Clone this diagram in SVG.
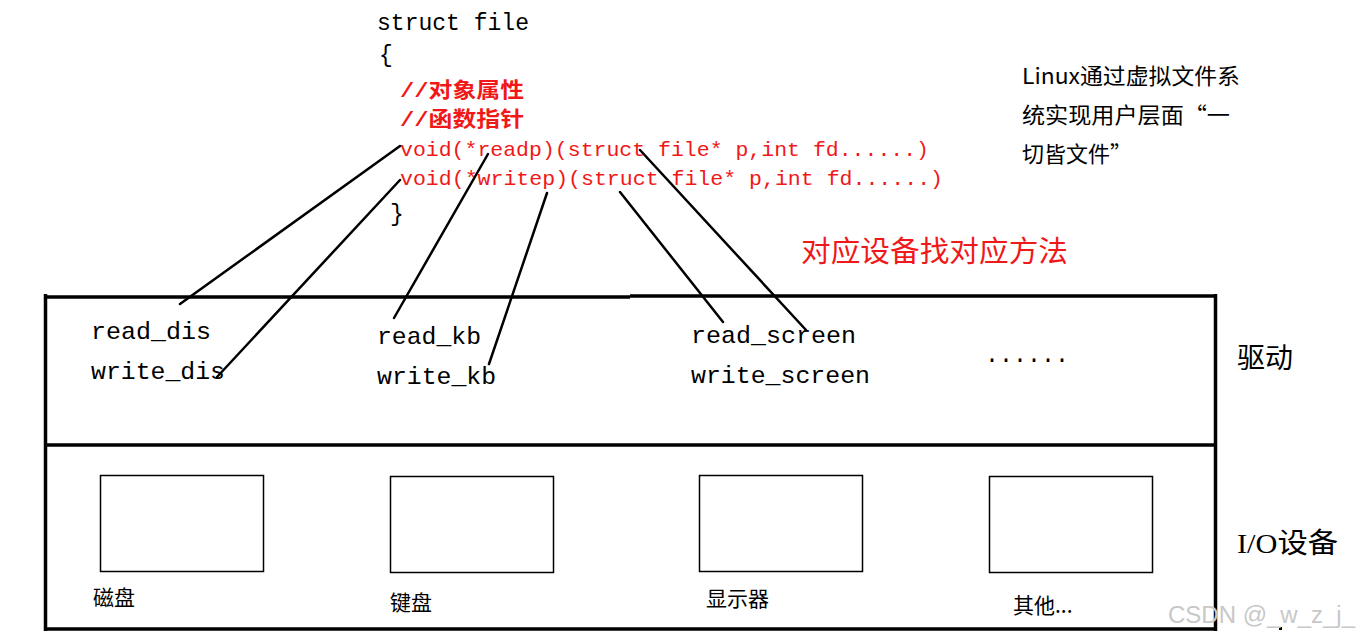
<svg xmlns="http://www.w3.org/2000/svg" width="1361" height="638" viewBox="0 0 1361 638">
<style>
.code{font-family:"Liberation Mono","Noto Sans CJK SC",monospace;font-size:23px;fill:#000}
.red{fill:#f01818;font-size:21px}
.bold{font-weight:bold}
.fn{font-family:"Liberation Mono","Noto Sans CJK SC",monospace;font-size:24px;fill:#000}
.cn{font-family:"Noto Sans CJK SC",sans-serif;font-size:21px;fill:#000}
.side{font-family:"Liberation Serif","Noto Sans CJK SC",serif;font-size:28px;fill:#000}
.note{font-family:"Noto Sans CJK SC",sans-serif;font-size:22px;fill:#000}
.frame{stroke:#000;stroke-width:3.5;fill:none}
.dev{stroke:#000;stroke-width:1.5;fill:#fff}
.conn{stroke:#000;stroke-width:2.5;fill:none;stroke-linecap:round}
</style>
<rect width="1361" height="638" fill="#fff"/>
<g id="struct-file">
<text class="code" x="377" y="30" textLength="152" lengthAdjust="spacingAndGlyphs">struct file</text>
<text class="code" x="379" y="62">{</text>
<text class="code red bold" x="400" y="97" textLength="124" lengthAdjust="spacingAndGlyphs">//对象属性</text>
<text class="code red bold" x="400" y="126" textLength="124" lengthAdjust="spacingAndGlyphs">//函数指针</text>
<text class="code red" x="400" y="156" textLength="529" lengthAdjust="spacingAndGlyphs">void(*readp)(struct file* p,int fd......)</text>
<text class="code red" x="400" y="185" textLength="543" lengthAdjust="spacingAndGlyphs">void(*writep)(struct file* p,int fd......)</text>
<text class="code" x="390" y="221">}</text>
</g>
<g id="note">
<text class="note" x="1022" y="84" textLength="218" lengthAdjust="spacingAndGlyphs">Linux通过虚拟文件系</text>
<text class="note" x="1022" y="123" textLength="208" lengthAdjust="spacingAndGlyphs">统实现用户层面“一</text>
<text class="note" x="1022" y="162">切皆文件”</text>
</g>
<g id="caption">
<text x="801" y="262" font-family="Noto Sans CJK SC, sans-serif" font-size="29" fill="#f01818" textLength="267" lengthAdjust="spacingAndGlyphs">对应设备找对应方法</text>
</g>
<g id="driver-layer">
<path class="frame" d="M45 297 H630 M630 296 H1216 M45.5 294 V631 M1215.5 294 V631 M45 445 H1217 M45 629 H1217"/>
<text class="fn" x="91" y="339" textLength="120" lengthAdjust="spacingAndGlyphs">read_dis</text>
<text class="fn" x="91" y="379" textLength="134" lengthAdjust="spacingAndGlyphs">write_dis</text>
<text class="fn" x="377" y="344" textLength="104" lengthAdjust="spacingAndGlyphs">read_kb</text>
<text class="fn" x="377" y="384" textLength="119" lengthAdjust="spacingAndGlyphs">write_kb</text>
<text class="fn" x="691" y="343" textLength="165" lengthAdjust="spacingAndGlyphs">read_screen</text>
<text class="fn" x="691" y="383" textLength="179" lengthAdjust="spacingAndGlyphs">write_screen</text>
<text class="fn" x="985" y="362" textLength="84" lengthAdjust="spacingAndGlyphs">......</text>
<text class="side" x="1237" y="368">驱动</text>
</g>
<g id="io-layer">
<text class="side" x="1237" y="553" textLength="101" lengthAdjust="spacingAndGlyphs">I/O设备</text>
</g>
<g id="disk">
<rect class="dev" x="100.5" y="475.5" width="163" height="96"/>
<text class="cn" x="93" y="605">磁盘</text>
</g>
<g id="keyboard">
<rect class="dev" x="390.5" y="476.5" width="163" height="96"/>
<text class="cn" x="390" y="610">键盘</text>
</g>
<g id="screen">
<rect class="dev" x="699.5" y="475.5" width="163" height="96"/>
<text class="cn" x="706" y="606">显示器</text>
</g>
<g id="other">
<rect class="dev" x="989.5" y="476.5" width="163" height="96"/>
<text class="cn" x="1013" y="613">其他...</text>
</g>
<g id="connectors">
<line class="conn" x1="400" y1="146" x2="180" y2="304"/>
<line class="conn" x1="400" y1="180" x2="217" y2="377"/>
<line class="conn" x1="488" y1="154" x2="394" y2="318"/>
<line class="conn" x1="547" y1="193" x2="489" y2="364"/>
<line class="conn" x1="620" y1="192" x2="723" y2="322"/>
<line class="conn" x1="640" y1="150" x2="806" y2="330"/>
</g>
<rect x="1279" y="627" width="3" height="3" fill="#000"/>
<text x="1168" y="623" font-family="Liberation Sans, sans-serif" font-size="23" fill="#c8c8c8" textLength="187" lengthAdjust="spacingAndGlyphs">CSDN @_w_z_j_</text>
</svg>
